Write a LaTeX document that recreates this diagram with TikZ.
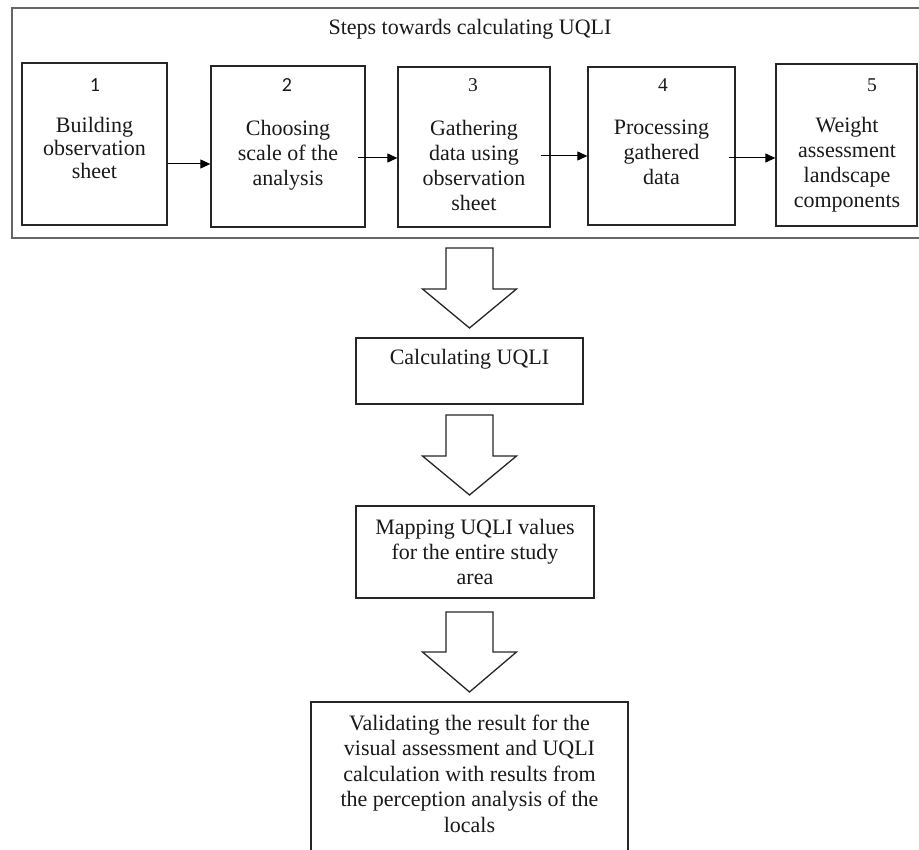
\documentclass[tikz,border=0pt]{standalone}
\usepackage{fontspec}
\setmainfont{Liberation Serif}
\newfontfamily\numfont{Carlito}
\usetikzlibrary{arrows.meta,calc}
\newcommand\myblockarrow[4]{%
  \draw[hollow] ({#1-23.5},#2) -- ({#1+23.5},#2) -- ({#1+23.5},#3) -- ({#1+47},#3)
    -- (#1,#4) -- ({#1-47},#3) -- ({#1-23.5},#3) -- cycle;}
\begin{document}
\begin{tikzpicture}[x=1pt,y=-1pt,
  box/.style={draw=black!85,line width=1.3pt,inner sep=0pt},
  txt/.style={font=\fontsize{22}{25}\selectfont,align=center,inner sep=0pt,anchor=north,text=black!90},
  numsans/.style={font=\numfont\fontsize{20}{24}\selectfont,inner sep=0pt,text=black!90},
  numserif/.style={font=\fontsize{19.5}{24}\selectfont,inner sep=0pt,text=black!90},
  flow/.style={-{Triangle[length=10pt,width=9pt]},line width=1pt,black},
  hollow/.style={draw=black!85,line width=1.3pt,line join=miter,fill=white}]
\useasboundingbox (0,0) rectangle (919,850);
\clip (0,0) rectangle (919,850);
% outer frame
\node[box,draw=black!60,line width=2pt,minimum width=918pt,minimum height=230pt] (frame) at (471,123) {};
\node[txt,anchor=base] (title) at (470,35) {Steps towards calculating UQLI};
% step boxes
\node[box,minimum width=145pt,minimum height=162pt] (b1) at (94.5,144) {};
\node[box,minimum width=154pt,minimum height=161pt] (b2) at (288,146.5) {};
\node[box,minimum width=152pt,minimum height=160pt] (b3) at (474,147) {};
\node[box,minimum width=147pt,minimum height=158pt] (b4) at (661.5,146) {};
\node[box,minimum width=141pt,minimum height=162pt] (b5) at (846.5,145) {};
% numbers
\node[numsans] (n1) at (95,85) {1};
\node[numsans] (n2) at (287,85) {2};
\node[numserif] (n3) at (473,85) {3};
\node[numserif] (n4) at (663,85) {4};
\node[numserif] (n5) at (872,85) {5};
% step texts
\node[txt,font=\fontsize{22}{23}\selectfont] (t1) at (94.5,117.5) {Building\\observation\\sheet};
\node[txt] (t2) at (288,120.5) {Choosing\\scale of the\\analysis};
\node[txt] (t3) at (474,120.5) {Gathering\\data using\\observation\\sheet};
\node[txt] (t4) at (661.5,119.5) {Processing\\gathered\\data};
\node[txt] (t5) at (847,117.5) {Weight\\assessment\\landscape\\components};
% step arrows
\draw[flow] (b1.east |- 0,164) -- (b2.west |- 0,164);
\draw[flow] ($(b2.east |- 0,158)+(-8,0)$) -- (b3.west |- 0,158);
\draw[flow] ($(b3.east |- 0,156)+(-10,0)$) -- (b4.west |- 0,156);
\draw[flow] ($(b4.east |- 0,158)+(-7,0)$) -- (b5.west |- 0,158);
% lower boxes
\node[box,minimum width=227pt,minimum height=66pt] (calc) at (469.5,371) {};
\node[txt,anchor=base] (calct) at (469.5,365) {Calculating UQLI};
\node[box,minimum width=238pt,minimum height=92pt] (map) at (475,552) {};
\node[txt] (mapt) at (475,519.5) {Mapping UQLI values\\for the entire study\\area};
\node[box,minimum width=317pt,minimum height=158pt] (val) at (469.5,781) {};
\node[txt,font=\fontsize{22}{25.5}\selectfont] (valt) at (469.5,714.5) {Validating the result for the\\visual assessment and UQLI\\calculation with results from\\the perception analysis of the\\locals};
% block arrows
\myblockarrow{469.5}{248}{289}{328}
\myblockarrow{469.5}{415}{456}{495}
\myblockarrow{469.5}{612}{652}{692}
\end{tikzpicture}
\end{document}
